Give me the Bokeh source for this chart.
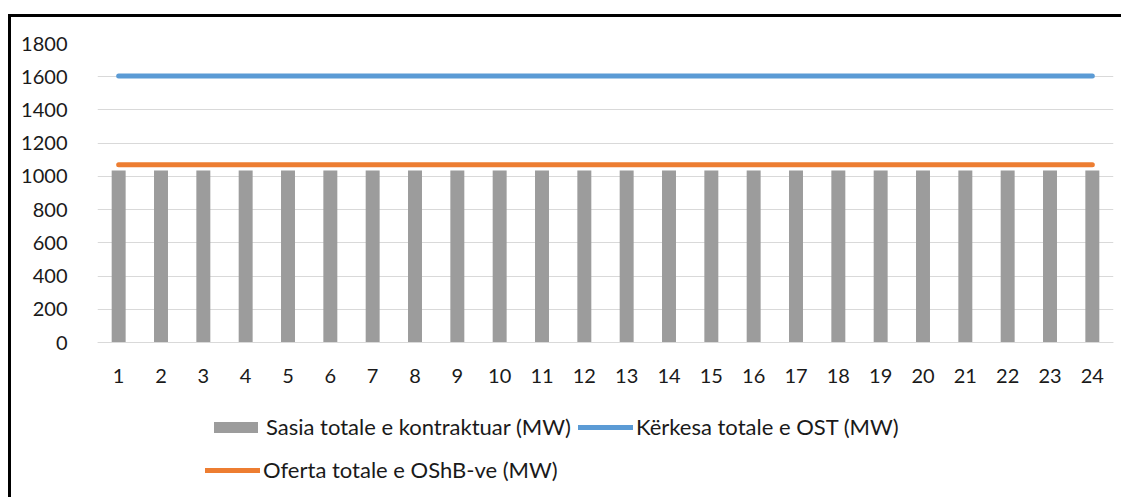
from bokeh.plotting import figure
from bokeh.models import FactorRange, Range1d, Legend, LegendItem, ColumnDataSource, FixedTicker
from bokeh.embed import file_html
from bokeh.resources import INLINE

hours = [str(h) for h in range(1, 25)]
contracted = [1035] * 24   # Sasia totale e kontraktuar (MW)
demand = [1605] * 24       # Kërkesa totale e OST (MW)
offer = [1070] * 24        # Oferta totale e OShB-ve (MW)
y_ticks = [0, 200, 400, 600, 800, 1000, 1200, 1400, 1600, 1800]

FONT = "Lato"
FS = "20px"
LFS = "22px"
TXT = "#1a1a1a"

src = ColumnDataSource(dict(h=hours, c=contracted, d=demand, o=offer))

p = figure(
    x_range=FactorRange(*hours, range_padding=0),
    y_range=Range1d(-951, 1800),
    width=1113, height=483,
    output_backend="svg", toolbar_location=None,
    min_border_left=86, min_border_right=11,
    min_border_top=26, min_border_bottom=0,
    margin=(14, 0, 0, 8),
    styles={"border-top": "3px solid black", "border-left": "3px solid black"},
)
p.outline_line_color = None
p.background_fill_color = "white"
p.border_fill_color = "white"

bars = p.vbar(x="h", top="c", width=0.33, source=src, fill_color="#9c9c9c", line_color=None)
l_d = p.line(x="h", y="d", source=src, line_color="#5b9bd5", line_width=5, line_cap="round")
l_o = p.line(x="h", y="o", source=src, line_color="#ed7d31", line_width=5, line_cap="round")

p.xgrid.grid_line_color = None
p.ygrid.grid_line_color = "#d9d9d9"
p.ygrid.grid_line_width = 1

p.yaxis.ticker = FixedTicker(ticks=y_ticks)
p.yaxis.axis_line_color = None
p.yaxis.major_tick_line_color = None
p.yaxis.minor_tick_line_color = None
p.yaxis.major_label_text_font = FONT
p.yaxis.major_label_text_font_size = FS
p.yaxis.major_label_text_color = TXT
p.yaxis.major_label_standoff = 24

p.xaxis.fixed_location = 0
p.xaxis.axis_line_color = "#d9d9d9"
p.xaxis.axis_line_width = 1
p.xaxis.major_tick_line_color = None
p.xaxis.minor_tick_line_color = None
p.xaxis.major_label_text_font = FONT
p.xaxis.major_label_text_font_size = FS
p.xaxis.major_label_text_color = TXT
p.xaxis.major_label_standoff = 20

def mk_legend(items, loc):
    lg = Legend(items=items, location=loc, orientation="horizontal",
                label_text_font=FONT, label_text_font_size=LFS,
                label_text_color=TXT,
                glyph_width=55, glyph_height=14, label_standoff=3,
                spacing=7, padding=0, margin=0,
                border_line_alpha=0, background_fill_alpha=0)
    p.add_layout(lg, "center")
    return lg

mk_legend([LegendItem(label="Sasia totale e kontraktuar (MW)", renderers=[bars]),
           LegendItem(label="Kërkesa totale e OST (MW)", renderers=[l_d])], (111, 60))
mk_legend([LegendItem(label="Oferta totale e OShB-ve (MW)", renderers=[l_o])], (108, 17))

open("out.html", "w").write(file_html(p, INLINE))
